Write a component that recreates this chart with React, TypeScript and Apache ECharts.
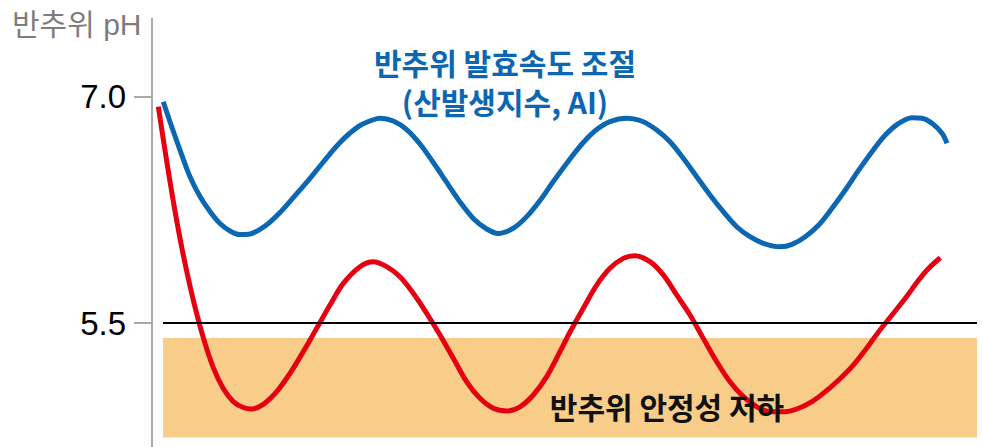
import React, { useEffect, useRef } from "react";
import * as echarts from "echarts";

// time axis (arbitrary units 0-825), pH values
const blueTime = [11.3, 18, 28, 38, 48, 58, 68, 78, 88, 98, 108, 118, 128, 138, 148, 158, 168, 178, 188, 198, 208, 221.3, 228, 241.3, 254.7, 268, 281.3, 294.7, 308, 321.3, 334.7, 346.3, 361.3, 374.7, 388, 401.3, 418, 431.3, 444.7, 458, 474.7, 491.3, 504.7, 518, 531.3, 544.7, 558, 571.3, 584.7, 598, 611.3, 628, 640, 653.3, 666.7, 680, 693.3, 706.7, 720, 733.3, 746.7, 760, 770, 780, 790, 795];
const bluePH = [6.969, 6.836, 6.648, 6.471, 6.34, 6.24, 6.16, 6.111, 6.087, 6.091, 6.121, 6.17, 6.233, 6.307, 6.383, 6.46, 6.542, 6.623, 6.698, 6.761, 6.811, 6.849, 6.859, 6.841, 6.784, 6.688, 6.565, 6.433, 6.303, 6.194, 6.124, 6.094, 6.129, 6.206, 6.313, 6.439, 6.589, 6.698, 6.784, 6.837, 6.859, 6.836, 6.781, 6.703, 6.593, 6.471, 6.35, 6.239, 6.139, 6.073, 6.029, 6.006, 6.022, 6.073, 6.15, 6.261, 6.383, 6.515, 6.637, 6.748, 6.825, 6.863, 6.859, 6.825, 6.759, 6.693];

const redTime = [6.3, 14.7, 23, 31.3, 41.3, 51.3, 61.3, 71.3, 81.3, 91.3, 99.7, 111.3, 124.7, 138, 151.3, 164.7, 178, 191.3, 208, 221.3, 234.7, 248, 261.3, 274.7, 288, 301.3, 314.7, 328, 341.3, 354.7, 368, 381.3, 394.7, 408, 418, 431.3, 444.7, 458, 471.3, 483, 498, 511.3, 524.7, 538, 551.3, 564.7, 578, 591.3, 604.7, 618, 633.3, 646.7, 660, 673.3, 686.7, 700, 713.3, 726.7, 740, 753.3, 766.7, 776.7, 788.3];
const redPH = [6.936, 6.574, 6.243, 5.951, 5.652, 5.403, 5.204, 5.065, 4.978, 4.939, 4.93, 4.96, 5.044, 5.166, 5.31, 5.465, 5.619, 5.763, 5.874, 5.907, 5.874, 5.807, 5.697, 5.564, 5.42, 5.266, 5.11, 5.0, 4.934, 4.916, 4.944, 5.022, 5.144, 5.31, 5.44, 5.598, 5.752, 5.863, 5.929, 5.947, 5.907, 5.819, 5.686, 5.553, 5.398, 5.243, 5.11, 5.011, 4.944, 4.911, 4.911, 4.934, 4.978, 5.044, 5.122, 5.21, 5.321, 5.442, 5.553, 5.664, 5.785, 5.863, 5.933];

const yTicks = [5.5, 7.0];
const thresholdPH = 5.5;
const zoneRange = [4.74, 5.4]; // pH span of the "instability" band
const zoneTime = [11, 825];

const axisName = "반추위 pH";
const blueLabel = ["반추위 발효속도 조절", "(산발생지수, AI)"];
const redLabel = "반추위 안정성 저하";

const zip = (xs: number[], ys: number[]) => xs.map((x, i) => [x, ys[i]]);

export default function App() {
  const ref = useRef<HTMLDivElement>(null);
  useEffect(() => {
    if (!ref.current) return;
    const chart = echarts.init(ref.current, null, { renderer: "svg" });
    chart.setOption({
      animation: false,
      backgroundColor: "#ffffff",
      grid: { left: 152, right: 5, top: 18.65, height: 427.9 },
      xAxis: { type: "value", min: 0, max: 825, show: false },
      yAxis: {
        type: "value",
        min: 4.68,
        max: 7.52,
        axisLine: { show: true, lineStyle: { color: "#a9a9a9", width: 2 } },
        axisTick: { show: true, customValues: yTicks, length: 18, lineStyle: { color: "#a9a9a9", width: 2 } },
        axisLabel: {
          show: true,
          customValues: yTicks,
          formatter: (v: number) => v.toFixed(1),
          fontSize: 33,
          color: "#000",
          margin: 26,
          fontFamily: "Liberation Sans, Arial, sans-serif",
        },
        splitLine: { show: false },
      },
      series: [
        {
          type: "line",
          data: [],
          silent: true,
          z: 1,
          markArea: {
            silent: true,
            itemStyle: { color: "#f8cd8a" },
            data: [[{ coord: [zoneTime[0], zoneRange[0]] }, { coord: [zoneTime[1], zoneRange[1]] }]],
          },
          markLine: {
            silent: true,
            symbol: "none",
            label: { show: false },
            lineStyle: { color: "#000", width: 2, type: "solid" },
            data: [[{ coord: [zoneTime[0], thresholdPH] }, { coord: [zoneTime[1], thresholdPH] }]],
          },
        },
        {
          type: "line",
          data: zip(blueTime, bluePH),
          smooth: 0.33,
          showSymbol: false,
          lineStyle: { color: "#0b67b2", width: 5 },
          z: 3,
        },
        {
          type: "line",
          data: zip(redTime, redPH),
          smooth: 0.33,
          showSymbol: false,
          lineStyle: { color: "#e50012", width: 5 },
          z: 4,
        },
      ],
      graphic: [
        {
          type: "text",
          left: 12,
          top: 9,
          style: {
            text: axisName,
            fill: "#7d7d7d",
            font: '400 30px "Liberation Sans", "Noto Sans CJK KR", sans-serif',
          },
        },
        {
          type: "text",
          x: 505,
          y: 62,
          z: 10,
          style: {
            text: blueLabel[0],
            fill: "#0b67b2",
            textAlign: "center",
            textVerticalAlign: "middle",
            lineHeight: 30,
            font: '700 30px "Noto Sans CJK KR", sans-serif',
          },
        },
        {
          type: "text",
          x: 505,
          y: 101,
          z: 10,
          style: {
            text: blueLabel[1],
            fill: "#0b67b2",
            textAlign: "center",
            textVerticalAlign: "middle",
            lineHeight: 30,
            font: '700 30px "Noto Sans CJK KR", sans-serif',
          },
        },
        {
          type: "text",
          x: 667,
          y: 406,
          z: 10,
          style: {
            text: redLabel,
            fill: "#111111",
            textAlign: "center",
            textVerticalAlign: "middle",
            lineHeight: 30,
            font: '700 30px "Noto Sans CJK KR", sans-serif',
          },
        },
      ],
    });
    return () => chart.dispose();
  }, []);
  return (
    <div
      ref={ref}
      style={{ position: "fixed", left: 0, top: 0, width: 982, height: 447, background: "#fff" }}
    />
  );
}
